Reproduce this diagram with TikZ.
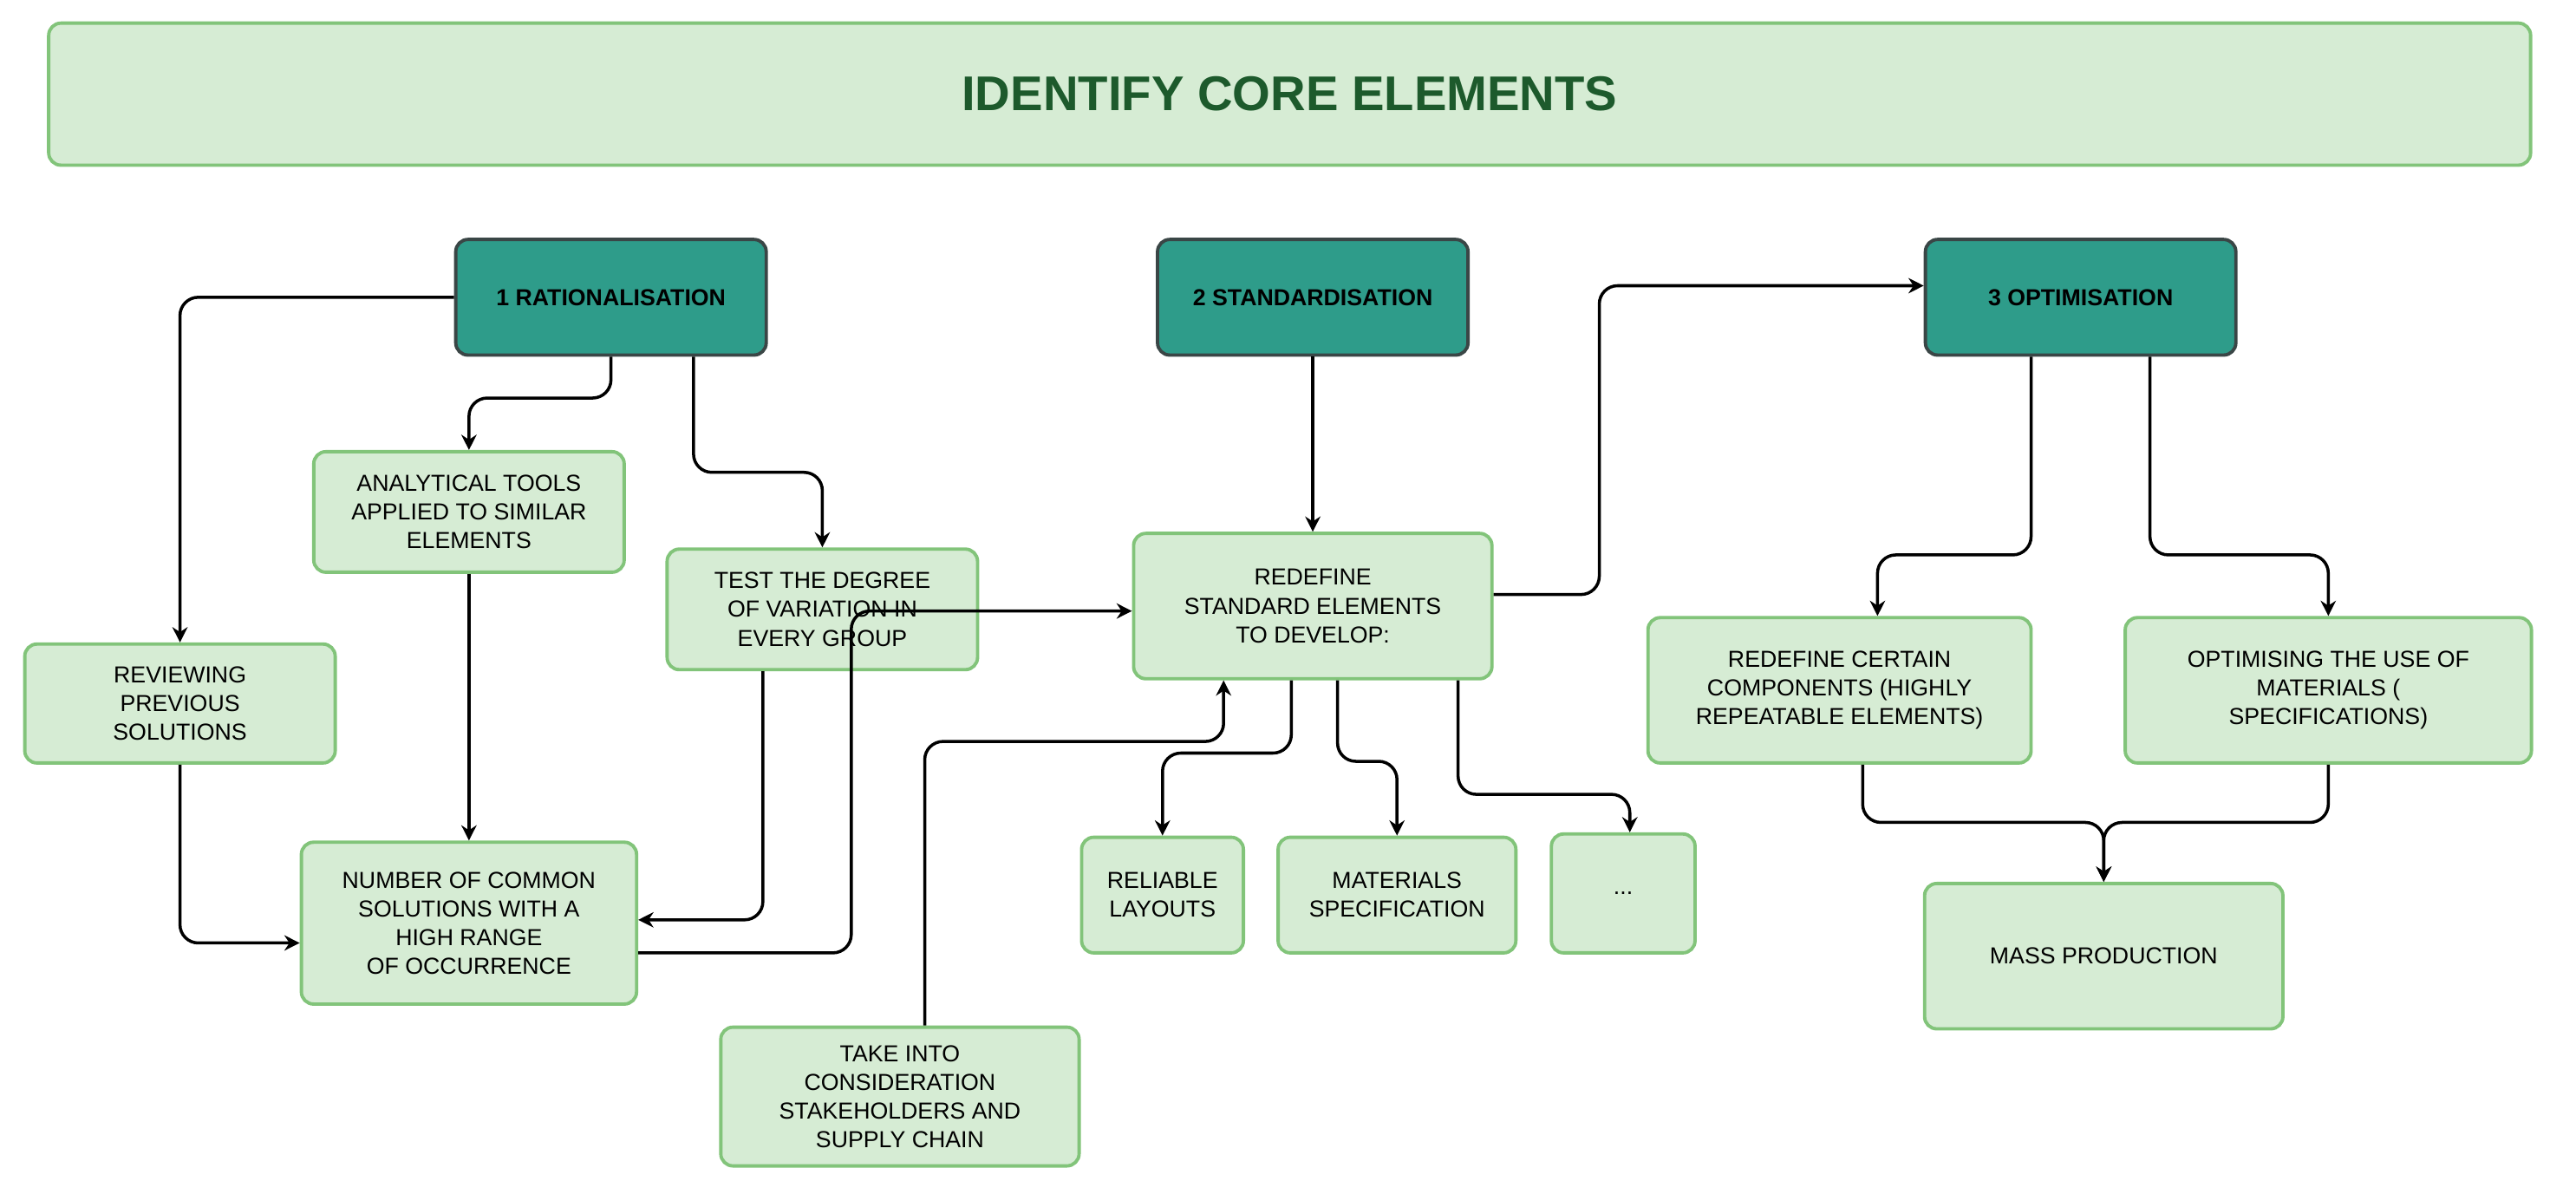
\documentclass[tikz,border=0pt]{standalone}
\usepackage{fontspec}
\setmainfont{Liberation Sans}
\usetikzlibrary{arrows.meta,calc}
\definecolor{boxfill}{HTML}{D6ECD4}
\definecolor{boxline}{HTML}{82C47A}
\definecolor{headfill}{HTML}{2E9C8A}
\definecolor{headline}{HTML}{3A4646}
\definecolor{titletext}{HTML}{1D5A2C}
\begin{document}
\begin{tikzpicture}[x=0.019045cm,y=-0.019045cm,thick,
  step box/.style={draw=boxline,fill=boxfill,line width=1.1pt,rounded corners=4pt,
    align=center,inner sep=1pt,font=\fontsize{7.6}{9.4}\selectfont},
  head box/.style={draw=headline,fill=headfill,line width=1.1pt,rounded corners=4pt,
    minimum width=188\pgflinewidth,font=\fontsize{7.6}{9.4}\selectfont\bfseries},
  link/.style={-{Stealth[length=5pt,width=5pt]},line width=1pt,rounded corners=6pt}]

  \useasboundingbox (0,0) rectangle (1560,722.5);

  \node[step box,minimum width=1503*0.019045cm,minimum height=86*0.019045cm,
    font=\fontsize{16}{18}\selectfont\bfseries,text=titletext] (title) at (781,57) {IDENTIFY CORE ELEMENTS};

  \node[head box,minimum width=188*0.019045cm,minimum height=70*0.019045cm] (rat) at (370,180) {1 RATIONALISATION};
  \node[head box,minimum width=188*0.019045cm,minimum height=70*0.019045cm] (std) at (795,180) {2 STANDARDISATION};
  \node[head box,minimum width=188*0.019045cm,minimum height=70*0.019045cm] (opt) at (1260,180) {3 OPTIMISATION};

  \node[step box,minimum width=188*0.019045cm,minimum height=73*0.019045cm] (ana) at (284,310) {ANALYTICAL TOOLS\\APPLIED TO SIMILAR\\ELEMENTS};
  \node[step box,minimum width=188*0.019045cm,minimum height=73*0.019045cm] (test) at (498,369) {TEST THE DEGREE\\OF VARIATION IN\\EVERY GROUP};
  \node[step box,minimum width=188*0.019045cm,minimum height=72*0.019045cm] (rev) at (109,426) {REVIEWING\\PREVIOUS\\SOLUTIONS};
  \node[step box,minimum width=203*0.019045cm,minimum height=98*0.019045cm] (num) at (284,559) {NUMBER OF COMMON\\SOLUTIONS WITH A\\HIGH RANGE\\OF OCCURRENCE};
  \node[step box,minimum width=217*0.019045cm,minimum height=88*0.019045cm] (red) at (795,367) {REDEFINE\\STANDARD ELEMENTS\\TO DEVELOP:};
  \node[step box,minimum width=98*0.019045cm,minimum height=70*0.019045cm] (lay) at (704,542) {RELIABLE\\LAYOUTS};
  \node[step box,minimum width=144*0.019045cm,minimum height=70*0.019045cm] (mat) at (846,542) {MATERIALS\\SPECIFICATION};
  \node[step box,minimum width=87*0.019045cm,minimum height=72*0.019045cm] (etc) at (983,541) {...};
  \node[step box,minimum width=217*0.019045cm,minimum height=84*0.019045cm] (take) at (545,664) {TAKE INTO\\CONSIDERATION\\STAKEHOLDERS AND\\SUPPLY CHAIN};
  \node[step box,minimum width=232*0.019045cm,minimum height=88*0.019045cm] (comp) at (1114,418) {REDEFINE CERTAIN\\COMPONENTS (HIGHLY\\REPEATABLE ELEMENTS)};
  \node[step box,minimum width=246*0.019045cm,minimum height=88*0.019045cm] (use) at (1410,418) {OPTIMISING THE USE OF\\MATERIALS (\\SPECIFICATIONS)};
  \node[step box,minimum width=217*0.019045cm,minimum height=88*0.019045cm] (mass) at (1274,579) {MASS PRODUCTION};

  % rationalisation
  \draw[link] (rat.west) -| (rev.north);
  \draw[link] ([xshift=0]rat.south) ++(0,0) -- ++(0,25) -| (ana.north);
  \draw[link] ([xshift=50*0.019045cm]rat.south) -- ++(0,70) -| (test.north);
  \draw[link] (ana.south) -- (num.north);
  \draw[link] (rev.south) |- ([yshift=-12*0.019045cm]num.west);
  \draw[link] ([xshift=-36*0.019045cm]test.south) |- ([yshift=2*0.019045cm]num.east);

  % standardisation
  \draw[link] ([yshift=-18*0.019045cm]num.east) -- ++(129,0) |- ([yshift=-3*0.019045cm]red.west);
  \draw[link] ([xshift=15*0.019045cm]take.north) |- ++(181,-172) -- ([xshift=-54*0.019045cm]red.south);
  \draw[link] (std.south) -- (red.north);
  \draw[link] ([xshift=-13*0.019045cm]red.south) -- ++(0,44) -| (lay.north);
  \draw[link] ([xshift=15*0.019045cm]red.south) -- ++(0,49) -| (mat.north);
  \draw[link] ([xshift=88*0.019045cm]red.south) -- ++(0,69) -| ([xshift=4*0.019045cm]etc.north);

  % optimisation
  \draw[link] ([yshift=7*0.019045cm]red.east) -- ++(64,0) |- ([yshift=7*0.019045cm]opt.west);
  \draw[link] ([xshift=-30*0.019045cm]opt.south) -- ++(0,120) -| ([xshift=23*0.019045cm]comp.north);
  \draw[link] ([xshift=42*0.019045cm]opt.south) -- ++(0,120) -| (use.north);
  \draw[link] ([xshift=14*0.019045cm]comp.south) -- ++(0,35) -| (mass.north);
  \draw[link] (use.south) -- ++(0,35) -| (mass.north);

\end{tikzpicture}
\end{document}
